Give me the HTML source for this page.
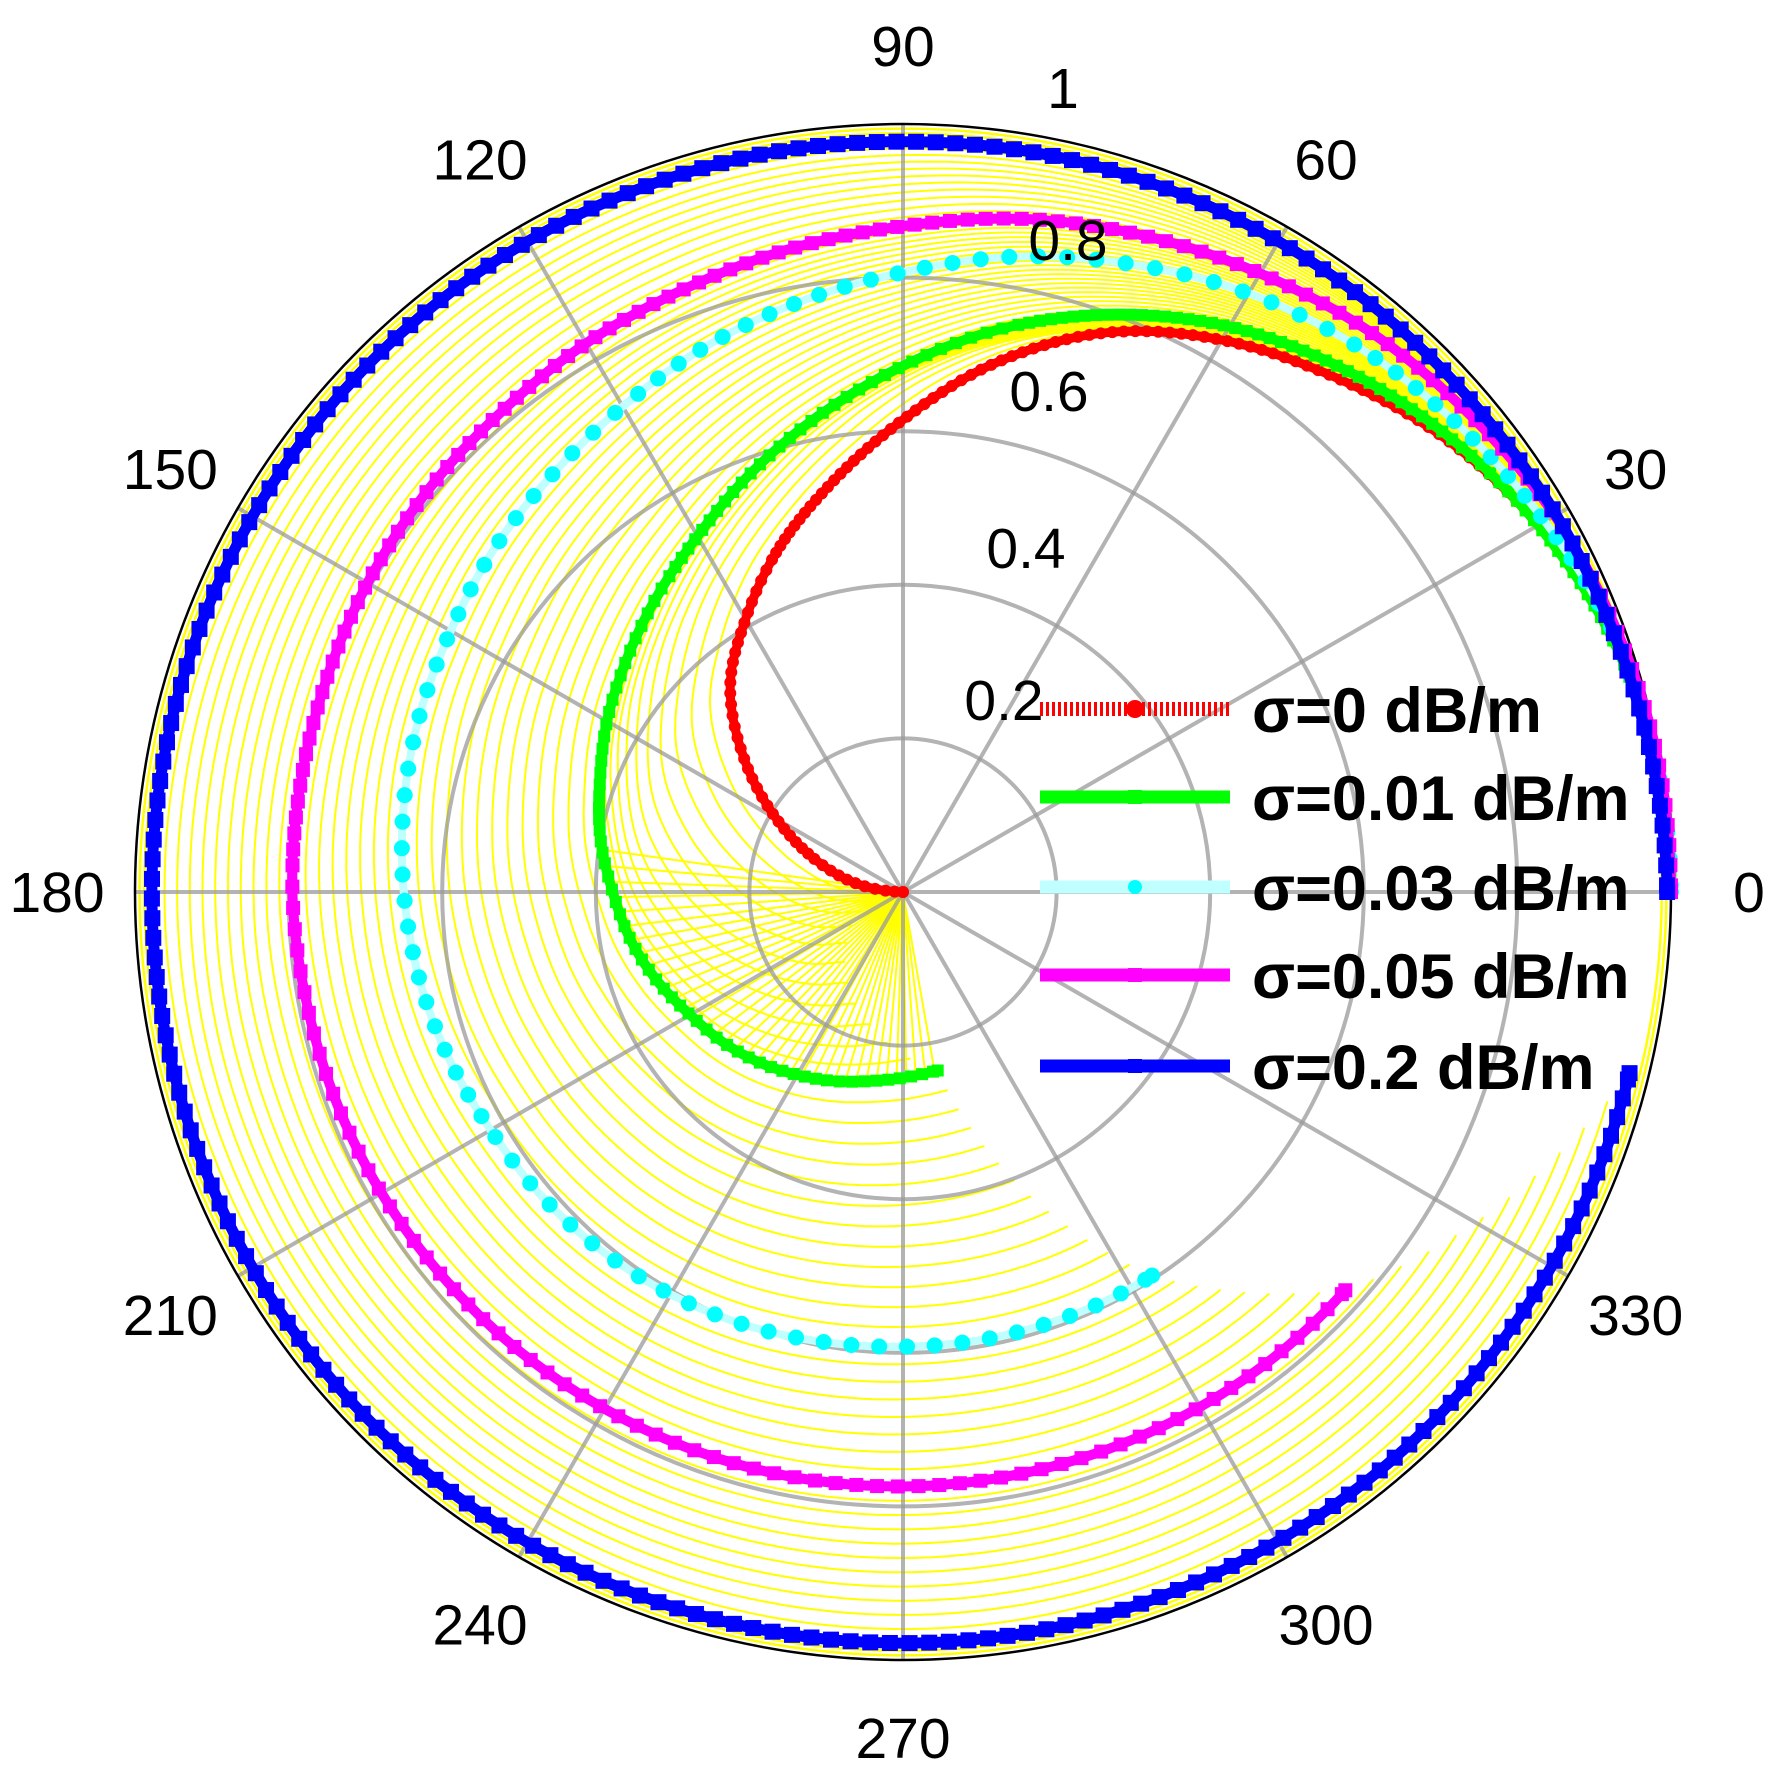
<!DOCTYPE html>
<html><head><meta charset="utf-8"><style>
html,body{margin:0;padding:0;background:#fff;}
svg{display:block;}
text{font-family:"Liberation Sans",sans-serif;}
</style></head>
<body>
<svg id="chart" width="1776" height="1770" viewBox="0 0 1776 1770" xmlns="http://www.w3.org/2000/svg">
<g id="yellow"></g>
<g id="grid"></g>
<g id="series"></g>
<g id="labels"></g>
<g id="legend"></g>
</svg>
<script>
// ---- data ----
const angleStep = 10; // degrees between samples
const redR = [1.0,0.995,0.98,0.955,0.92,0.875,0.83,0.775,0.7,0.615,0.54,0.475,0.41,0.35,0.27,0.19,0.12,0.06,0.0];
const redEnd = 180;
const greenR = [1.0,0.995,0.98,0.955,0.925,0.89,0.85,0.8,0.745,0.685,0.63,0.58,0.535,0.5,0.47,0.445,0.42,0.4,0.378,0.36,0.34,0.32,0.305,0.29,0.275,0.262,0.25,0.242,0.237,0.237];
const greenEnd = 281;
const cyanR = [1.0,0.995,0.985,0.965,0.945,0.925,0.9,0.87,0.84,0.807,0.78,0.755,0.73,0.71,0.695,0.68,0.67,0.66,0.65,0.64,0.63,0.62,0.615,0.61,0.605,0.6,0.595,0.592,0.592,0.593,0.595,0.596];
const cyanEnd = 303;
const magentaR = [1.0,0.998,0.99,0.98,0.965,0.95,0.93,0.91,0.89,0.867,0.85,0.835,0.825,0.815,0.81,0.805,0.8,0.797,0.795,0.79,0.787,0.784,0.781,0.779,0.777,0.776,0.775,0.774,0.773,0.773,0.774,0.775,0.775];
const magentaEnd = 318;
const blueR = [0.995,0.99,0.985,0.982,0.978,0.978,0.978,0.978,0.978,0.977,0.978,0.978,0.978,0.978,0.978,0.978,0.978,0.978,0.978,0.978,0.978,0.978,0.978,0.978,0.978,0.978,0.978,0.978,0.978,0.977,0.976,0.976,0.975,0.975,0.975,0.975];
const blueEnd = 346;
const radialTicks = [0.2,0.4,0.6,0.8,1];
const radialTickLabels = ["0.2","0.4","0.6","0.8","1"];
const angleTicks = [0,30,60,90,120,150,180,210,240,270,300,330];
const legendLabels = ["σ=0 dB/m","σ=0.01 dB/m","σ=0.03 dB/m","σ=0.05 dB/m","σ=0.2 dB/m"];

// ---- geometry ----
const CX=903, CY=892, R=768;
const NS='http://www.w3.org/2000/svg';
function px(theta,r){const a=theta*Math.PI/180;return [CX+r*R*Math.cos(a), CY-r*R*Math.sin(a)];}
function mk(tag,attrs,parent){const e=document.createElementNS(NS,tag);for(const k in attrs)e.setAttribute(k,attrs[k]);parent.appendChild(e);return e;}
function rAt(arr,end,theta){
  const t=Math.min(theta,end)/angleStep; let i=Math.floor(t); if(i>=arr.length-1)i=arr.length-2; const f=t-i;
  const p0=arr[Math.max(i-1,0)],p1=arr[i],p2=arr[Math.min(i+1,arr.length-1)],p3=arr[Math.min(i+2,arr.length-1)];
  return 0.5*((2*p1)+(-p0+p2)*f+(2*p0-5*p1+4*p2-p3)*f*f+(-p0+3*p1-3*p2+p3)*f*f*f);
}
function densePts(arr,end){const pts=[];for(let th=0;th<=end+1e-9;th+=0.5){pts.push(px(th,rAt(arr,end,th)));}return pts;}
function ptsToD(pts){return 'M'+pts.map(p=>p[0].toFixed(1)+','+p[1].toFixed(1)).join('L');}

const series=[
 {arr:redR,end:redEnd,name:'red',color:'#ff0000',lineColor:'#ff0000',lw:9,marker:'circle',ms:6,sp:8},
 {arr:greenR,end:greenEnd,name:'green',color:'#00ff00',lineColor:'#00ff00',lw:10,marker:'square',ms:6,sp:11},
 {arr:cyanR,end:cyanEnd,name:'cyan',color:'#00ffff',lineColor:'#c0ffff',lw:8,marker:'circle',ms:8,sp:25},
 {arr:magentaR,end:magentaEnd,name:'magenta',color:'#ff00ff',lineColor:'#ff00ff',lw:10,marker:'square',ms:7,sp:16},
 {arr:blueR,end:blueEnd,name:'blue',color:'#0000ff',lineColor:'#0000ff',lw:11,marker:'square',ms:8,sp:17}
];

// ---- yellow family ----
const yg=document.getElementById('yellow');
const counts=[11,12,7,10];
for(let k=0;k<4;k++){
  const A=series[k],B=series[k+1];
  for(let j=1;j<=counts[k];j++){
    const w=j/(counts[k]+1); const pts=[];
    for(let s=0;s<=1.0001;s+=0.004){
      const ta=s*A.end, tb=s*B.end;
      const th=ta+(tb-ta)*w; const r=rAt(A.arr,A.end,ta)*(1-w)+rAt(B.arr,B.end,tb)*w;
      pts.push(px(th,r));
    }
    const p=mk('path',{d:ptsToD(pts),fill:'none',stroke:'#ffff00','stroke-width':2},yg);
    
    
  }
}
// radial fan from center to green curve (lower-left)
for(let th=172;th<=greenEnd;th+=3){
  const rr=rAt(greenR,greenEnd,th);
  const p0=px(th,0),p1=px(th,rr);
  const l=mk('line',{x1:p0[0],y1:p0[1],x2:p1[0],y2:p1[1],stroke:'#ffff00','stroke-width':2},yg);
  
  
}
[0.988,0.994].forEach(rr=>{const c=mk('circle',{cx:CX,cy:CY,r:rr*R,fill:'none',stroke:'#ffff00','stroke-width':2.5},yg);
 
 });

// ---- grid ----
const gg=document.getElementById('grid');
radialTicks.slice(0,4).forEach(v=>{const c=mk('circle',{cx:CX,cy:CY,r:v*R,fill:'none',stroke:'#999','stroke-opacity':0.75,'stroke-width':4},gg);
 
 });
angleTicks.forEach(a=>{const p=px(a,1);const l=mk('line',{x1:CX,y1:CY,x2:p[0],y2:p[1],stroke:'#999','stroke-opacity':0.75,'stroke-width':4},gg);
 
 });
const oc=mk('circle',{cx:CX,cy:CY,r:R,fill:'none',stroke:'#000','stroke-width':2.5},gg);



// ---- series ----
const sg=document.getElementById('series');
function drawMarker(g,type,x,y,s,color){
  let m;
  if(type==='circle') m=mk('circle',{cx:x,cy:y,r:s,fill:color},g);
  else m=mk('rect',{x:x-s,y:y-s,width:2*s,height:2*s,fill:color},g);
  
  
}
series.forEach(S=>{
  const g=mk('g',{},sg);
  
  
  const pts=densePts(S.arr,S.end);
  const path=mk('path',{d:ptsToD(pts),fill:'none',stroke:S.lineColor,'stroke-width':S.lw,'stroke-linejoin':'round'},g);
  
  
  let acc=S.sp;
  for(let i=1;i<pts.length;i++){
    const dx=pts[i][0]-pts[i-1][0],dy=pts[i][1]-pts[i-1][1];acc+=Math.hypot(dx,dy);
    if(acc>=S.sp){acc=0;drawMarker(g,S.marker,pts[i][0],pts[i][1],S.ms,S.color);}
  }
  drawMarker(g,S.marker,pts[0][0],pts[0][1],S.ms,S.color);
  drawMarker(g,S.marker,pts[pts.length-1][0],pts[pts.length-1][1],S.ms,S.color);
});

// ---- labels ----
const lg=document.getElementById('labels');
angleTicks.forEach(a=>{const p=px(a,846/R);const t=mk('text',{x:p[0],y:p[1]+20,'font-size':57,'text-anchor':'middle',fill:'#000'},lg);t.textContent=String(a);
 
 });
const rlPos=[[1004,700],[1026,548],[1049,391],[1068,240],[1063,88]];
radialTickLabels.forEach((s,i)=>{const t=mk('text',{x:rlPos[i][0],y:rlPos[i][1]+20,'font-size':57,'text-anchor':'middle',fill:'#000'},lg);t.textContent=s;
 
 });

// ---- legend ----
const leg=document.getElementById('legend');
const legY=[709,797,887,975,1066];
series.forEach((S,i)=>{
  const g=mk('g',{},leg);
  
  
  const attrs={x1:1040,y1:legY[i],x2:1230,y2:legY[i],stroke:S.lineColor,'stroke-width':i===0?14:13};
  if(i===0)attrs['stroke-dasharray']='3,3';
  const l=mk('line',attrs,g);
  
  
  drawMarker(g,S.marker,1135,legY[i],i===0?9:7,S.color);
  const t=mk('text',{x:1252,y:legY[i]+23,'font-size':63,'font-weight':'bold',fill:'#000'},g);
  t.textContent=legendLabels[i];
  
  
});
</script>
</body></html>
